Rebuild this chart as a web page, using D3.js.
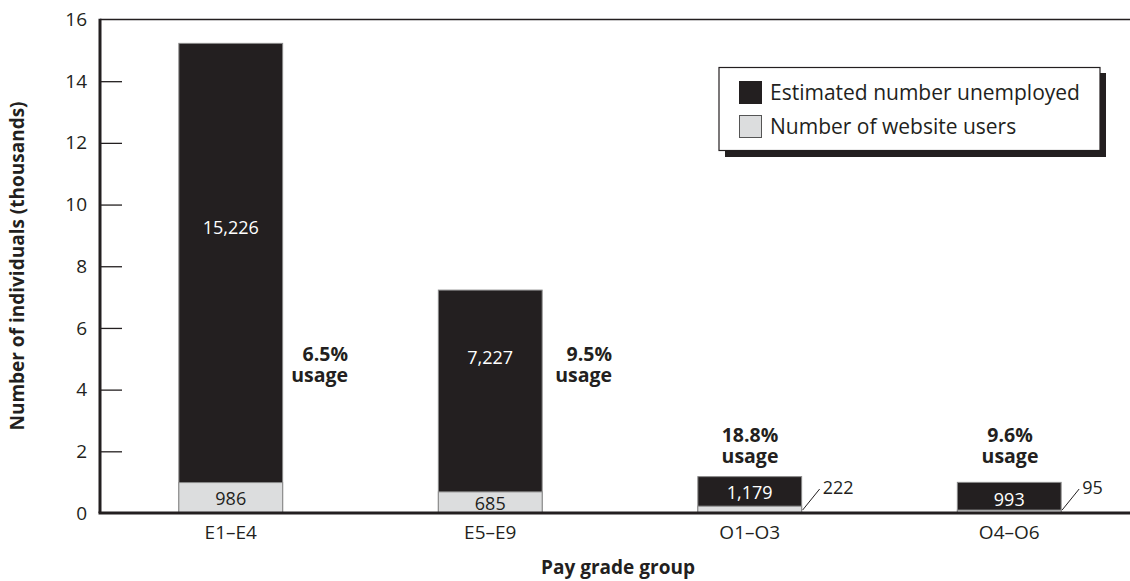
<!DOCTYPE html>
<html><head><meta charset="utf-8">
<script src="https://cdn.jsdelivr.net/npm/d3@7"></script>
<style>
body{margin:0;background:#fff;}
text{font-family:"Open Sans","Noto Sans",sans-serif;fill:#231f20;}
</style></head>
<body><svg id="c" width="1130" height="581"></svg>
<script>
const categories = ["E1–E4","E5–E9","O1–O3","O4–O6"];
const unemployed = [15226, 7227, 1179, 993];
const users = [986, 685, 222, 95];
const usageLabels = ["6.5%","9.5%","18.8%","9.6%"];
const yTicks = [0,2,4,6,8,10,12,14,16];
const legendLabels = ["Estimated number unemployed","Number of website users"];

(function(){
const svg = d3.select("#c");
const dark = "#231f20", light = "#dcddde", edge = "#8a8a8a";
const pLeft = 100, pRight = 1130, pTop = 19.5, pBottom = 513;

const x = d3.scaleBand().domain(categories).range([101, 1139]).paddingInner(0.6).paddingOuter(0.3);
const y = d3.scaleLinear().domain([0,16]).range([pBottom, pTop]);

svg.append("line").attr("x1",pLeft).attr("x2",pRight).attr("y1",pTop).attr("y2",pTop)
  .attr("stroke",dark).attr("stroke-width",1.5);

const yAxis = d3.axisRight(y).tickValues(yTicks).tickSize(22).tickFormat("");
const ya = svg.append("g").attr("transform",`translate(${pLeft},0)`).call(yAxis);
ya.select(".domain").remove();
ya.selectAll(".tick line").attr("stroke",dark).attr("stroke-width",1.3);
ya.selectAll(".tick").filter(d=>d===0||d===16).select("line").remove();
const yl = d3.axisLeft(y).tickValues(yTicks).tickSize(0).tickPadding(13).tickFormat(d3.format("d"));
const yg = svg.append("g").attr("transform",`translate(${pLeft},0)`).call(yl);
yg.select(".domain").remove();
yg.selectAll("text").style("font-size","19px").attr("fill",dark);

const g = svg.append("g");
categories.forEach((c,i)=>{
  g.append("rect").attr("x",x(c)).attr("width",x.bandwidth())
    .attr("y",y(unemployed[i]/1000)).attr("height",pBottom - y(unemployed[i]/1000))
    .attr("fill",dark).attr("stroke",edge).attr("stroke-width",1);
  g.append("rect").attr("x",x(c)).attr("width",x.bandwidth())
    .attr("y",y(users[i]/1000)).attr("height",pBottom - y(users[i]/1000))
    .attr("fill",light).attr("stroke",edge).attr("stroke-width",1);
});

svg.append("line").attr("x1",pLeft).attr("x2",pLeft).attr("y1",pTop-0.7).attr("y2",pBottom)
  .attr("stroke",dark).attr("stroke-width",3);
svg.append("line").attr("x1",pLeft-1.5).attr("x2",pRight).attr("y1",pBottom).attr("y2",pBottom)
  .attr("stroke",dark).attr("stroke-width",3);

const xa = d3.axisBottom(x).tickSize(0).tickPadding(0);
const xg = svg.append("g").attr("transform",`translate(0,${pBottom})`).call(xa);
xg.select(".domain").remove();
xg.selectAll("text").style("font-size","19px").attr("fill",dark).attr("y",19).attr("dy","0.35em");

const fmt = d3.format(",");
const unempLabelY = [228, 358, 493, 500];
categories.forEach((c,i)=>{
  const cx = x(c)+x.bandwidth()/2;
  svg.append("text").attr("x",cx).attr("y",unempLabelY[i]).attr("dy","0.35em")
    .attr("text-anchor","middle").style("font-size","18px").style("fill","#fff")
    .text(fmt(unemployed[i]));
});
categories.forEach((c,i)=>{
  const cx = x(c)+x.bandwidth()/2;
  const t0 = y(users[i]/1000);
  if (i < 2) {
    svg.append("text").attr("x",cx).attr("y",(t0+pBottom)/2+1).attr("dy","0.35em")
      .attr("text-anchor","middle").style("font-size","18px").text(fmt(users[i]));
  } else {
    const x0 = x(c)+x.bandwidth()+1;
    svg.append("line").attr("x1",x0).attr("y1",pBottom-3).attr("x2",x0+17).attr("y2",pBottom-24)
      .attr("stroke",dark).attr("stroke-width",1);
    svg.append("text").attr("x",x0+20).attr("y",pBottom-25).attr("dy","0.35em")
      .style("font-size","18px").text(fmt(users[i]));
  }
});

const usagePos = [
  {x:348, y:354, anchor:"end"},
  {x:612, y:354, anchor:"end"},
  {x:750, y:435, anchor:"middle"},
  {x:1010, y:435, anchor:"middle"}
];
categories.forEach((c,i)=>{
  const p = usagePos[i];
  svg.append("text").attr("text-anchor",p.anchor).style("font-size","19.5px").style("font-weight","bold")
    .attr("x",p.x).attr("y",p.y).attr("dy","0.35em").text(usageLabels[i]);
  svg.append("text").attr("text-anchor",p.anchor).style("font-size","19.5px").style("font-weight","bold")
    .attr("x",p.x).attr("y",p.y+21.5).attr("dy","0.35em").text("usage");
});

svg.append("text").attr("transform","translate(17,266) rotate(-90)").attr("text-anchor","middle")
  .attr("dy","0.35em")
  .style("font-size","19px").style("font-weight","bold").text("Number of individuals (thousands)");
svg.append("text").attr("x",618).attr("y",567).attr("dy","0.35em").attr("text-anchor","middle")
  .style("font-size","19px").style("font-weight","bold").text("Pay grade group");

const lg = svg.append("g");
lg.append("rect").attr("x",725).attr("y",73).attr("width",381).attr("height",84).attr("fill",dark);
lg.append("rect").attr("x",719).attr("y",67.5).attr("width",381).attr("height",83)
  .attr("fill","#fff").attr("stroke",dark).attr("stroke-width",1.2);
const sw = [dark, light];
legendLabels.forEach((l,i)=>{
  lg.append("rect").attr("x",739.5).attr("y",81.5+i*34).attr("width",22).attr("height",22)
    .attr("fill",sw[i]).attr("stroke",i?"#555":dark).attr("stroke-width",1);
  lg.append("text").attr("x",770).attr("y",92.5+i*34).attr("dy","0.35em")
    .style("font-size","21px").text(l);
});
})();
</script></body></html>
